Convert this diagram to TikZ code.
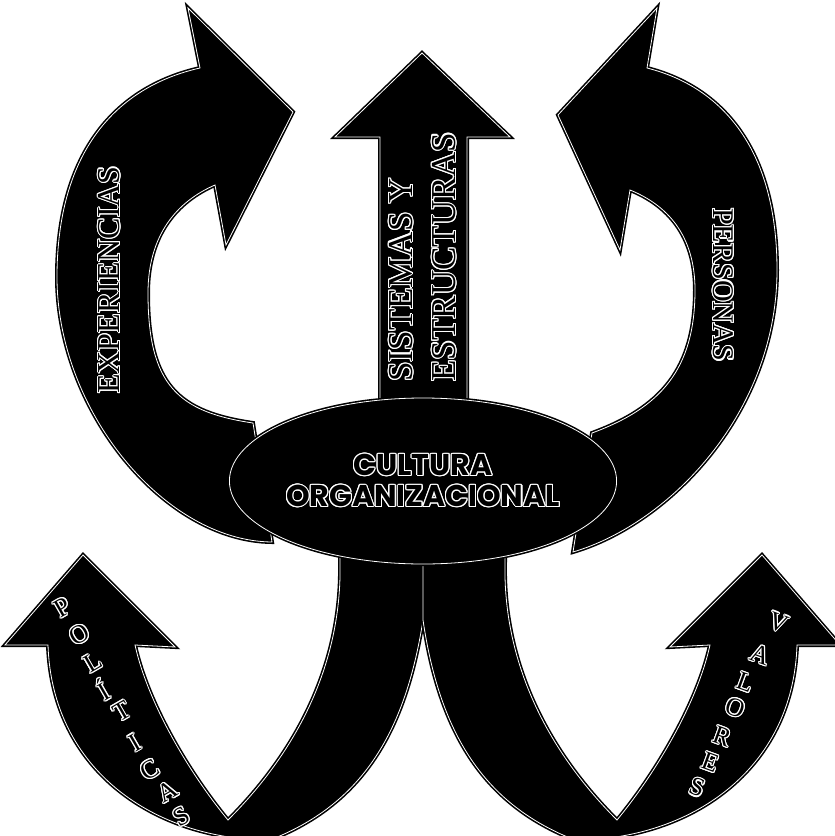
\documentclass[tikz,border=0pt]{standalone}
\usepackage{fontspec}
\setmainfont{Liberation Serif}
\newfontfamily\roundfont{Poppins}
\usepackage{contour}
\contourlength{1.1pt}
\usetikzlibrary{shapes.geometric}
\tikzset{
  blk/.style={fill=black,draw=white,line width=0.8pt,
              preaction={draw=black,line width=4pt}},
  lbl/.style={text=black,inner sep=0pt,font=\fontsize{32}{38}\selectfont},
  ltr/.style={text=black,inner sep=0pt,font=\fontsize{26}{26}\selectfont},
  oval/.style={ellipse,blk,minimum width=322pt,minimum height=166pt,inner sep=0pt,
               align=center,text=black,font=\roundfont\bfseries\fontsize{30}{31}\selectfont},
}
\newcommand{\wl}[1]{\contour{white}{#1}}
\begin{document}
\begin{tikzpicture}[x=1pt,y=-1pt]
  \useasboundingbox (0,0) rectangle (835,836);
  \clip (0,0) rectangle (835,836);
  \fill[white] (0,0) rectangle (835,836);
  \draw[blk] (48,645) -- (5,645) -- (83,555) -- (175,647) -- (135,645)
    .. controls (148,704) and (190,774) .. (228,820)
    .. controls (308,740) and (342,650) .. (340,562) -- (340,540) -- (423,540) -- (423,620)
    .. controls (405,735) and (360,805) .. (270,840)
    .. controls (155,840) and (52,770) .. (48,645) -- cycle;
  \draw[blk] (797,645) -- (840,645) -- (762,555) -- (670,647) -- (710,645)
    .. controls (697,704) and (655,774) .. (617,820)
    .. controls (537,740) and (503,650) .. (505,562) -- (505,540) -- (423,540) -- (423,620)
    .. controls (440,735) and (485,805) .. (575,840)
    .. controls (690,840) and (793,770) .. (797,645) -- cycle;
  \draw[blk] (200,68) -- (188,8) -- (293,112) -- (226,245) -- (215,185)
    .. controls (178,201) and (148,234) .. (148,293)
    .. controls (148,385) and (178,412) .. (253,423) -- (272,542)
    .. controls (164,541) and (57,410) .. (57,277)
    .. controls (57,152) and (116,87) .. (200,68) -- cycle;
  \draw[blk] (647,68) -- (657,8) -- (558,115) -- (620,250) -- (630,190)
    .. controls (667,205) and (695,235) .. (695,290)
    .. controls (695,370) and (660,408) .. (592,433) -- (573,552)
    .. controls (671,523) and (777,411) .. (777,270)
    .. controls (777,149) and (722,87) .. (647,68) -- cycle;
  \draw[blk] (380,430) -- (380,137) -- (335,137) -- (422,53) -- (510,137) -- (467,137) -- (467,430) -- cycle;
  \node[oval] (cult) at (423,481) {\wl{CULTURA}\\\wl{ORGANIZACIONAL}};
  \node[lbl,rotate=90] (exp) at (110,280) {\wl{EXPERIENCIAS}};
  \node[lbl,rotate=90,align=left,font=\fontsize{35}{43}\selectfont] (sis) at (423,257)
    {\wl{SISTEMAS Y}\\\wl{ESTRUCTURAS}};
  \node[lbl,rotate=-90,font=\fontsize{30}{36}\selectfont] (per) at (723,285) {\wl{PERSONAS}};
  \foreach \ch/\px/\py [count=\i] in {P/63/608,O/80/635,L/93/663,Í/103/690,T/122/712,
      I/135/743,C/150/770,A/168/792,S/182/817}
    \node[ltr,rotate=30] (pol\i) at (\px,\py) {\wl{\ch}};
  \foreach \ch/\px/\py [count=\i] in {V/778/623,A/760/655,L/745/683,O/735/708,R/722/737,
      E/710/763,S/697/788}
    \node[ltr,rotate=-20] (val\i) at (\px,\py) {\wl{\ch}};
\end{tikzpicture}
\end{document}
